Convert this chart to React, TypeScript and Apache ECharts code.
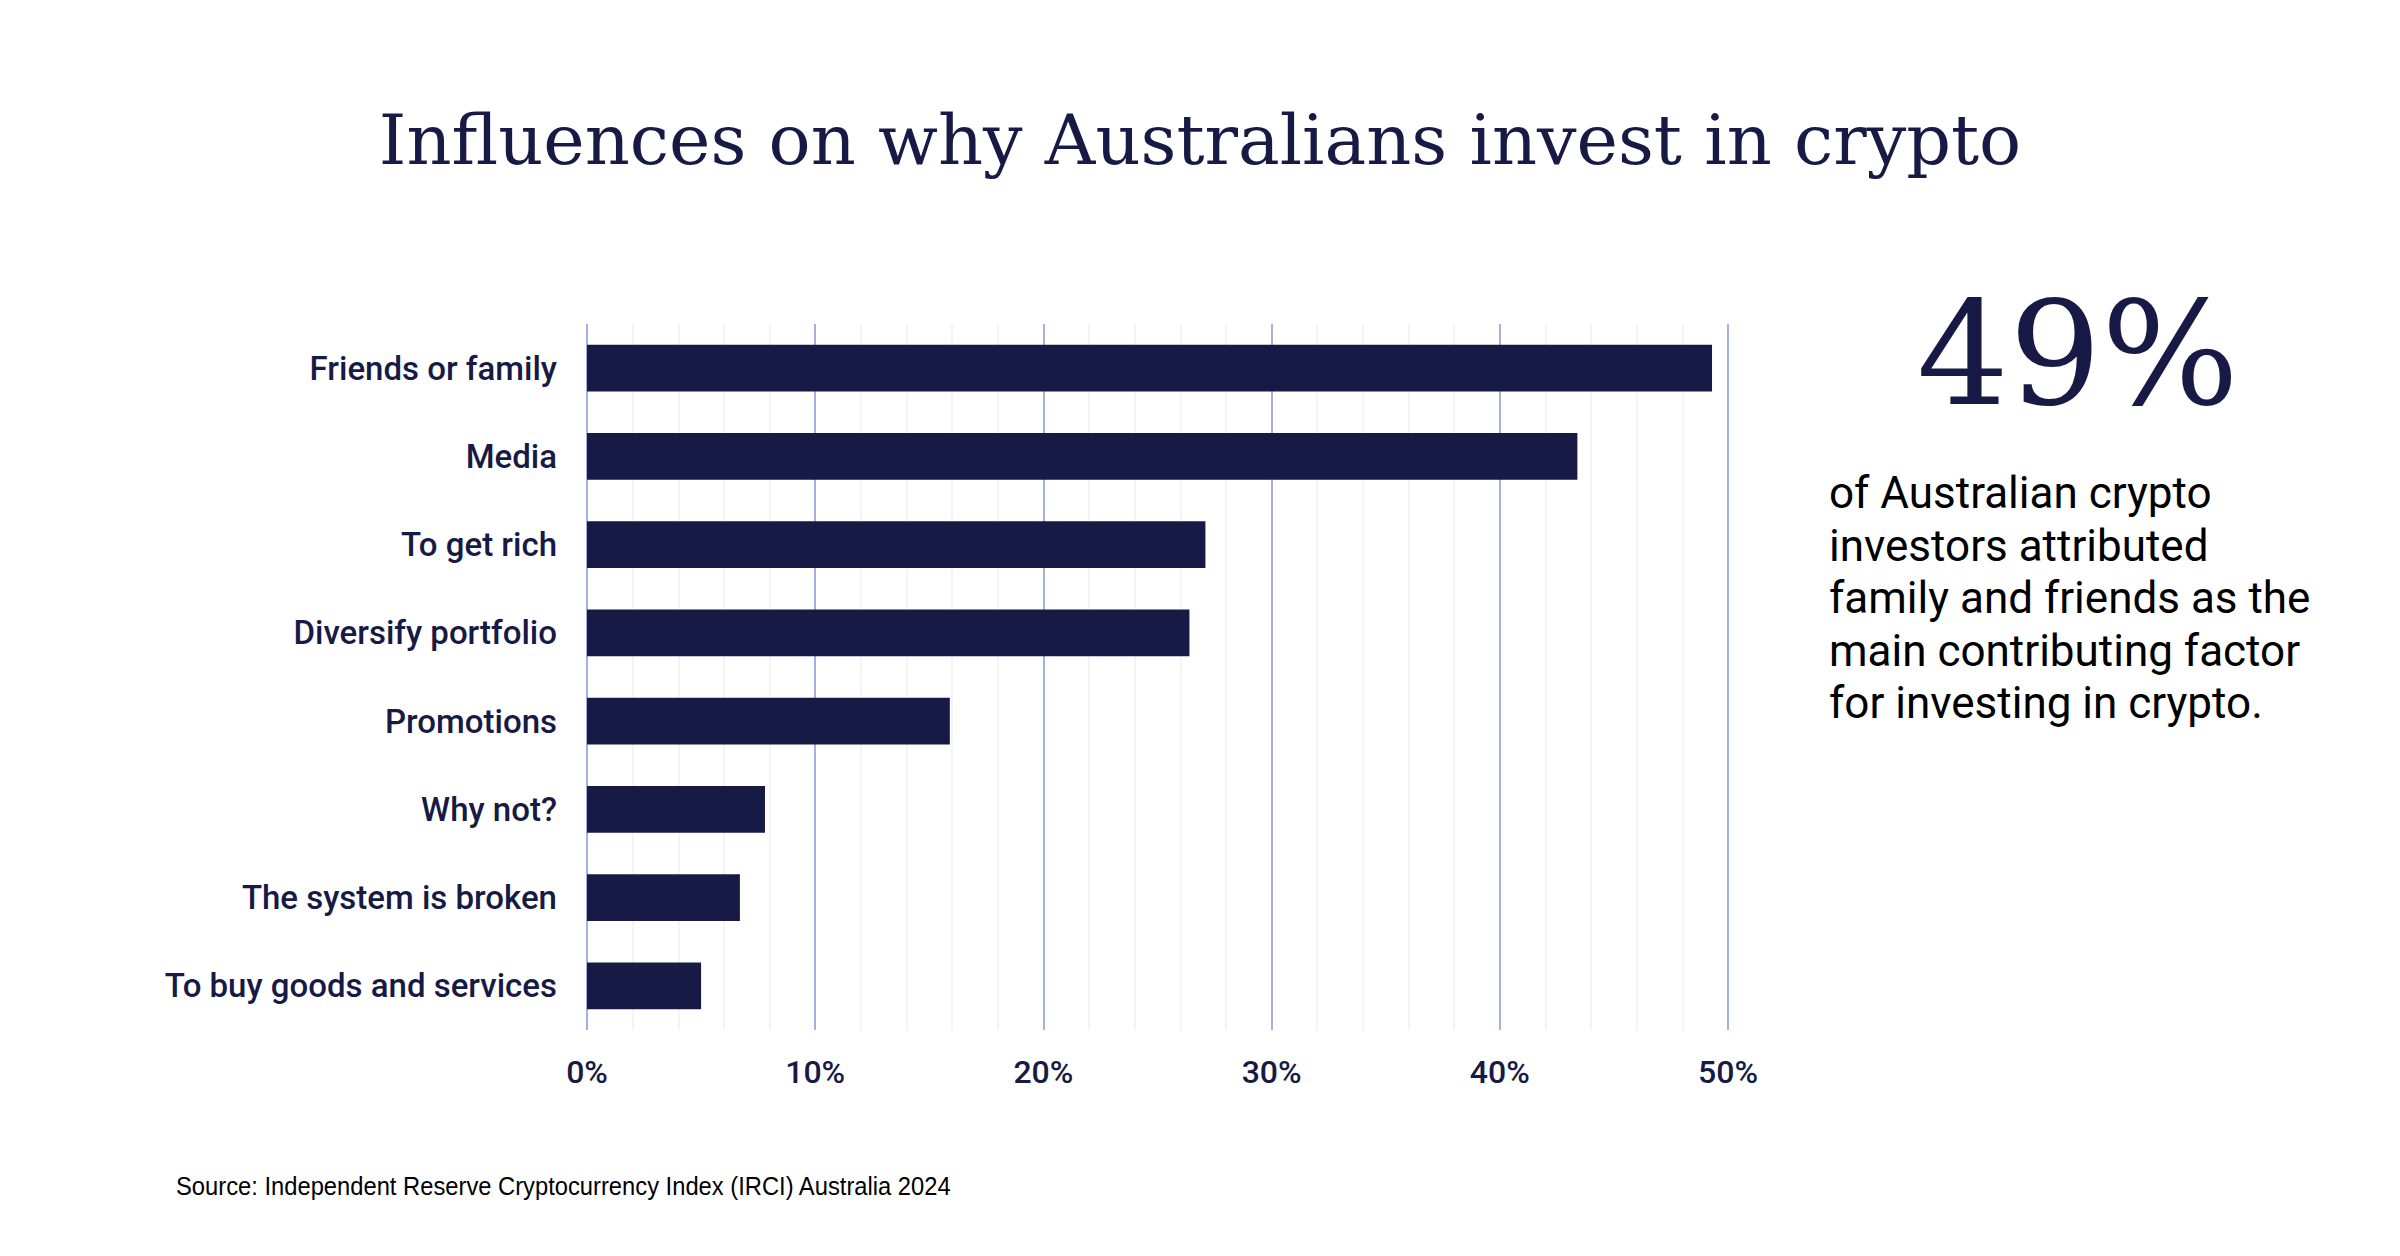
import React, { useEffect, useRef } from "react";
import * as echarts from "echarts";

const categories = [
  "Friends or family",
  "Media",
  "To get rich",
  "Diversify portfolio",
  "Promotions",
  "Why not?",
  "The system is broken",
  "To buy goods and services",
];
const values = [49.3, 43.4, 27.1, 26.4, 15.9, 7.8, 6.7, 5.0];
const titleText = "Influences on why Australians invest in crypto";
const highlightValue = "49%";
const highlightLines = [
  "of Australian crypto",
  "investors attributed",
  "family and friends as the",
  "main contributing factor",
  "for investing in crypto.",
];
const sourceText = "Source: Independent Reserve Cryptocurrency Index (IRCI) Australia 2024";

const NAVY = "#161a45";

export default function App() {
  const ref = useRef<HTMLDivElement>(null);
  useEffect(() => {
    document.body.style.margin = "0";
    const chart = echarts.init(ref.current!, null, { renderer: "svg" });
    chart.setOption({
      animation: false,
      backgroundColor: "#ffffff",
      title: {
        text: titleText,
        left: "center",
        top: 100,
        textStyle: {
          fontFamily: "DejaVu Serif",
          fontWeight: "normal",
          fontSize: 70,
          color: NAVY,
        },
      },
      grid: { left: 587, right: 672, top: 324, bottom: 226 },
      xAxis: {
        type: "value",
        min: 0,
        max: 50,
        interval: 10,
        axisLine: { show: false },
        axisTick: { show: false },
        axisLabel: {
          formatter: "{value}%",
          color: NAVY,
          fontFamily: "Roboto",
          fontWeight: 500,
          fontSize: 32,
          margin: 26,
        },
        splitLine: { show: true, lineStyle: { color: "#8796d6", width: 1.5 } },
        minorTick: { show: false, splitNumber: 5 },
        minorSplitLine: { show: true, lineStyle: { color: "#eef0f8", width: 1.5 } },
      },
      yAxis: {
        type: "category",
        data: categories,
        inverse: true,
        axisLine: { show: false },
        axisTick: { show: false },
        axisLabel: {
          color: NAVY,
          fontFamily: "Roboto",
          fontWeight: 500,
          fontSize: 33,
          margin: 30,
        },
        splitLine: { show: false },
      },
      series: [
        {
          type: "bar",
          data: values,
          barWidth: "53%",
          itemStyle: { color: NAVY },
        },
      ],
      graphic: [
        {
          type: "text",
          x: 2078,
          y: 353,
          style: {
            text: highlightValue,
            fontFamily: "DejaVu Serif",
            fontSize: 145,
            fill: NAVY,
            align: "center",
            verticalAlign: "middle",
          },
        },
        {
          type: "text",
          x: 1829,
          y: 467,
          style: {
            text: highlightLines.join("\n"),
            fontFamily: "Roboto",
            fontSize: 44,
            lineHeight: 52.5,
            fill: "#000000",
            align: "left",
            verticalAlign: "top",
          },
        },
        {
          type: "text",
          x: 176,
          y: 1186,
          scaleX: 0.95,
          style: {
            text: sourceText,
            fontFamily: "Liberation Sans",
            fontSize: 25,
            fill: "#000000",
            align: "left",
            verticalAlign: "middle",
          },
        },
      ],
    });
    return () => chart.dispose();
  }, []);
  return <div ref={ref} style={{ width: 2400, height: 1256 }} />;
}
